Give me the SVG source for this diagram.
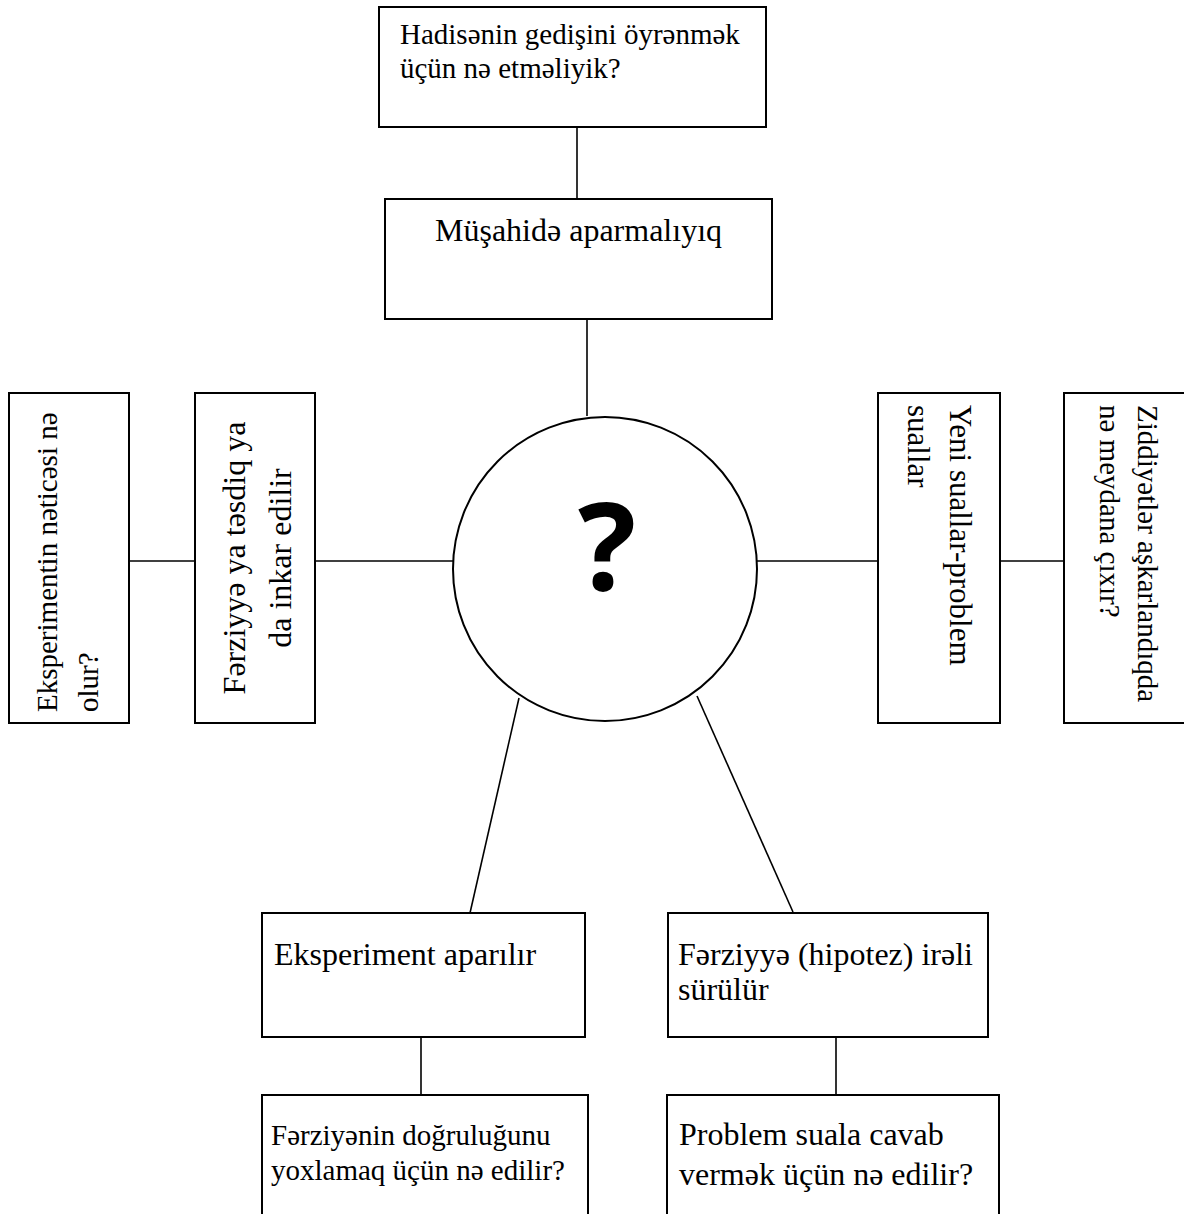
<svg xmlns="http://www.w3.org/2000/svg" width="1184" height="1214" viewBox="0 0 1184 1214">
<style>
.box{fill:#fff;stroke:#000;stroke-width:2}
.ln{stroke:#000;stroke-width:1.6;fill:none}
.t{font-family:"Liberation Serif","Times New Roman",serif;fill:#000}
</style>
<rect width="1184" height="1214" fill="#fff"/>
<g id="connectors">
<line class="ln" x1="577" y1="127" x2="577" y2="199"/>
<line class="ln" x1="587" y1="319" x2="587" y2="416"/>
<line class="ln" x1="129" y1="561" x2="195" y2="561"/>
<line class="ln" x1="315" y1="561" x2="453" y2="561"/>
<line class="ln" x1="757" y1="561" x2="878" y2="561"/>
<line class="ln" x1="1000" y1="561" x2="1064" y2="561"/>
<line class="ln" x1="519" y1="698" x2="470" y2="913"/>
<line class="ln" x1="697" y1="696" x2="793" y2="912"/>
<line class="ln" x1="421" y1="1037" x2="421" y2="1095"/>
<line class="ln" x1="836" y1="1037" x2="836" y2="1095"/>
</g>
<g id="n-hadise">
<rect class="box" x="379" y="7" width="387" height="120"/>
<text class="t" font-size="29" x="400" y="44">Hadisənin gedişini öyrənmək</text>
<text class="t" font-size="29" x="400" y="78">üçün nə etməliyik?</text>
</g>
<g id="n-musahide">
<rect class="box" x="385" y="199" width="387" height="120"/>
<text class="t" font-size="32" x="435" y="241">Müşahidə aparmalıyıq</text>
</g>
<g id="n-center">
<circle class="box" cx="605" cy="569" r="152"/>
<text font-family="'Open Sans','Noto Sans',sans-serif" font-weight="bold" font-size="122" x="607" y="590" text-anchor="middle">?</text>
</g>
<g id="n-netice">
<rect class="box" x="9" y="393" width="120" height="330"/>
<text class="t" font-size="29" transform="translate(57,712) rotate(-90)">Eksperimentin nəticəsi nə</text>
<text class="t" font-size="29" transform="translate(98,712) rotate(-90)">olur?</text>
</g>
<g id="n-tesdiq">
<rect class="box" x="195" y="393" width="120" height="330"/>
<text class="t" font-size="32" text-anchor="middle" transform="translate(245,558) rotate(-90)">Fərziyyə ya təsdiq ya</text>
<text class="t" font-size="32" text-anchor="middle" transform="translate(291,558) rotate(-90)">da inkar edilir</text>
</g>
<g id="n-yeni">
<rect class="box" x="878" y="393" width="122" height="330"/>
<text class="t" font-size="31" transform="translate(950,405) rotate(90)">Yeni suallar-problem</text>
<text class="t" font-size="31" transform="translate(908,405) rotate(90)">suallar</text>
</g>
<g id="n-ziddiyet">
<rect class="box" x="1064" y="393" width="130" height="330"/>
<text class="t" font-size="29" transform="translate(1138,405) rotate(90)">Ziddiyətlər aşkarlandıqda</text>
<text class="t" font-size="29" transform="translate(1100,405) rotate(90)">nə meydana çıxır?</text>
</g>
<g id="n-eksperiment">
<rect class="box" x="262" y="913" width="323" height="124"/>
<text class="t" font-size="32" x="274" y="965">Eksperiment aparılır</text>
</g>
<g id="n-hipotez">
<rect class="box" x="668" y="913" width="320" height="124"/>
<text class="t" font-size="32" x="678" y="965">Fərziyyə (hipotez) irəli</text>
<text class="t" font-size="32" x="678" y="1000">sürülür</text>
</g>
<g id="n-dogruluq">
<rect class="box" x="262" y="1095" width="326" height="130"/>
<text class="t" font-size="29" x="271" y="1145">Fərziyənin doğruluğunu</text>
<text class="t" font-size="29" x="271" y="1180">yoxlamaq üçün nə edilir?</text>
</g>
<g id="n-problem">
<rect class="box" x="667" y="1095" width="332" height="130"/>
<text class="t" font-size="32" x="679" y="1145">Problem suala cavab</text>
<text class="t" font-size="32" x="679" y="1185">vermək üçün nə edilir?</text>
</g>
</svg>
